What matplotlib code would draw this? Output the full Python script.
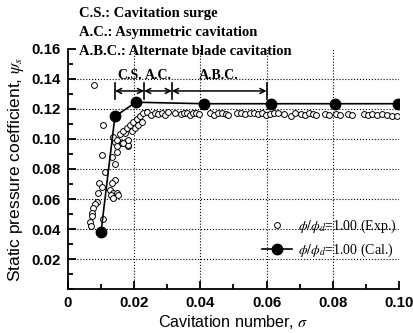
import matplotlib
matplotlib.use("Agg")
import matplotlib.pyplot as plt
from matplotlib.ticker import MultipleLocator, FuncFormatter

plt.rcParams['mathtext.fontset'] = 'stix'

# calculated values (filled circles)
cal_sigma = [0.0100, 0.0142, 0.0205, 0.0410, 0.0613, 0.0805, 0.0998]
cal_psi = [0.0380, 0.1150, 0.1245, 0.1235, 0.1235, 0.1235, 0.1235]

# experimental values (open circles)
exp_sigma = [0.0079, 0.0106, 0.0103, 0.0142, 0.0112, 0.0094, 0.0103, 0.0091,
             0.0088, 0.0082, 0.0076, 0.0072, 0.0072, 0.0066, 0.0069, 0.0106,
             0.0142, 0.0133, 0.0127, 0.0136, 0.0148, 0.0151, 0.0130, 0.0136,
             0.0133, 0.0142, 0.0148, 0.0163, 0.0181, 0.0148, 0.0180, 0.0172,
             0.0136, 0.0148, 0.0157, 0.0166, 0.0178, 0.0187, 0.0196, 0.0208,
             0.0217, 0.0227, 0.0239, 0.0181, 0.0166, 0.0193, 0.0202, 0.0211,
             0.0224,
             0.0251, 0.0263, 0.0272, 0.0284, 0.0293, 0.0302, 0.0323, 0.0341,
             0.0350, 0.0360, 0.0369, 0.0378, 0.0387, 0.0396, 0.0429, 0.0441,
             0.0453, 0.0465, 0.0477, 0.0483, 0.0511, 0.0523, 0.0535, 0.0550,
             0.0562, 0.0574, 0.0586, 0.0598, 0.0610, 0.0622, 0.0634, 0.0653,
             0.0674, 0.0686, 0.0704, 0.0716, 0.0728, 0.0740, 0.0749, 0.0776,
             0.0789, 0.0810, 0.0822, 0.0846, 0.0858, 0.0894, 0.0906, 0.0918,
             0.0934, 0.0949, 0.0964, 0.0979, 0.0994]
exp_psi = [0.1360, 0.1090, 0.0890, 0.0830, 0.0780, 0.0705, 0.0680, 0.0640,
           0.0580, 0.0570, 0.0540, 0.0510, 0.0490, 0.0450, 0.0420, 0.0470,
           0.0727, 0.0707, 0.0660, 0.0640, 0.0640, 0.0630, 0.0630, 0.0610,
           0.0880, 0.0980, 0.0950, 0.0970, 0.0950, 0.0915, 0.0960, 0.1040,
           0.1010, 0.0990, 0.1030, 0.1050, 0.1070, 0.1090, 0.1110, 0.1130,
           0.1150, 0.1170, 0.1180, 0.0990, 0.0970, 0.1050, 0.1070, 0.1090,
           0.1110,
           0.1160, 0.1175, 0.1165, 0.1175, 0.1160, 0.1180, 0.1170, 0.1165,
           0.1175, 0.1170, 0.1160, 0.1170, 0.1175, 0.1165, 0.1170, 0.1160,
           0.1175, 0.1170, 0.1165, 0.1160, 0.1170, 0.1175, 0.1165, 0.1170,
           0.1175, 0.1165, 0.1170, 0.1160, 0.1165, 0.1170, 0.1175, 0.1165,
           0.1155, 0.1170, 0.1165, 0.1160, 0.1170, 0.1165, 0.1160, 0.1165,
           0.1160, 0.1165, 0.1160, 0.1165, 0.1160, 0.1165, 0.1160, 0.1165,
           0.1160, 0.1165, 0.1160, 0.1155, 0.1150]

# regime boundaries and labels
bounds = [0.0142, 0.0230, 0.0314, 0.0600]
regimes = ['C.S.', 'A.C.', 'A.B.C.']
notes = ['C.S.: Cavitation surge', 'A.C.: Asymmetric cavitation',
         'A.B.C.: Alternate blade cavitation']

fig = plt.figure(figsize=(4.14, 3.33), dpi=100)
ax = fig.add_axes([0.164, 0.132, 0.800, 0.721])

ax.plot(exp_sigma, exp_psi, 'o', mfc='white', mec='black', ms=4.2, mew=0.7,
        ls='none', label=r'$\phi/\phi_d$=1.00 (Exp.)', zorder=3)
ax.plot(cal_sigma, cal_psi, '-o', color='black', lw=1.2, ms=7.5,
        label=r'$\phi/\phi_d$=1.00 (Cal.)', zorder=4)

# regime arrows
for b in bounds:
    ax.plot([b, b], [0.1265, 0.137], color='black', lw=1.2, zorder=5)
for i, lab in enumerate(regimes):
    ax.annotate('', xy=(bounds[i], 0.132), xytext=(bounds[i + 1], 0.132),
                arrowprops=dict(arrowstyle='<->', color='black', lw=1.1,
                                shrinkA=0, shrinkB=0, mutation_scale=9))
    ax.text((bounds[i] + bounds[i + 1]) / 2 if i < 2 else 0.0455, 0.1383, lab,
            ha='center', va='bottom', fontsize=10, fontweight='bold',
            family='Liberation Serif')

for i, n in enumerate(notes):
    fig.text(0.191, 0.958 - i * 0.057, n, ha='left', va='center',
             fontsize=10.5, fontweight='bold', family='Liberation Serif')

ax.set_xlim(0, 0.1)
ax.set_ylim(0, 0.16)
ax.set_xticks([0, 0.02, 0.04, 0.06, 0.08, 0.1])
ax.set_yticks([0.02, 0.04, 0.06, 0.08, 0.10, 0.12, 0.14, 0.16])
ax.xaxis.set_minor_locator(MultipleLocator(0.01))
ax.yaxis.set_minor_locator(MultipleLocator(0.01))
ax.xaxis.set_major_formatter(FuncFormatter(lambda v, p: '0' if v == 0 else '%.2f' % v))
ax.yaxis.set_major_formatter(FuncFormatter(lambda v, p: '%.2f' % v))
ax.tick_params(which='both', direction='in', width=1.3)
ax.tick_params(which='major', length=6, pad=5)
ax.tick_params(which='minor', length=3.5)
for lbl in ax.get_xticklabels() + ax.get_yticklabels():
    lbl.set_fontweight('bold')
    lbl.set_fontsize(10.8)
    lbl.set_family('Liberation Sans')

ax.grid(True, which='major', ls=':', color='black', lw=0.8)
ax.xaxis.get_gridlines()[0].set_visible(False)
ax.xaxis.get_gridlines()[-1].set_visible(False)
ax.yaxis.get_gridlines()[-1].set_visible(False)
ax.set_axisbelow(True)

for s in ['top', 'right']:
    ax.spines[s].set_visible(False)
for s in ['left', 'bottom']:
    ax.spines[s].set_linewidth(1.3)

ax.set_xlabel(r'Cavitation number, $\sigma$', fontsize=11.6,
              family='Liberation Sans', labelpad=2)
ax.set_ylabel(r'Static pressure coefficient, $\psi_s$', fontsize=12.5,
              family='Liberation Sans', labelpad=4)

ax.legend(loc='lower right', bbox_to_anchor=(1.03, 0.075), frameon=False,
          prop={'family': 'Liberation Serif', 'size': 10}, handlelength=2.2,
          handletextpad=0.4, labelspacing=0.45)

fig.savefig('out.png', dpi=100)
